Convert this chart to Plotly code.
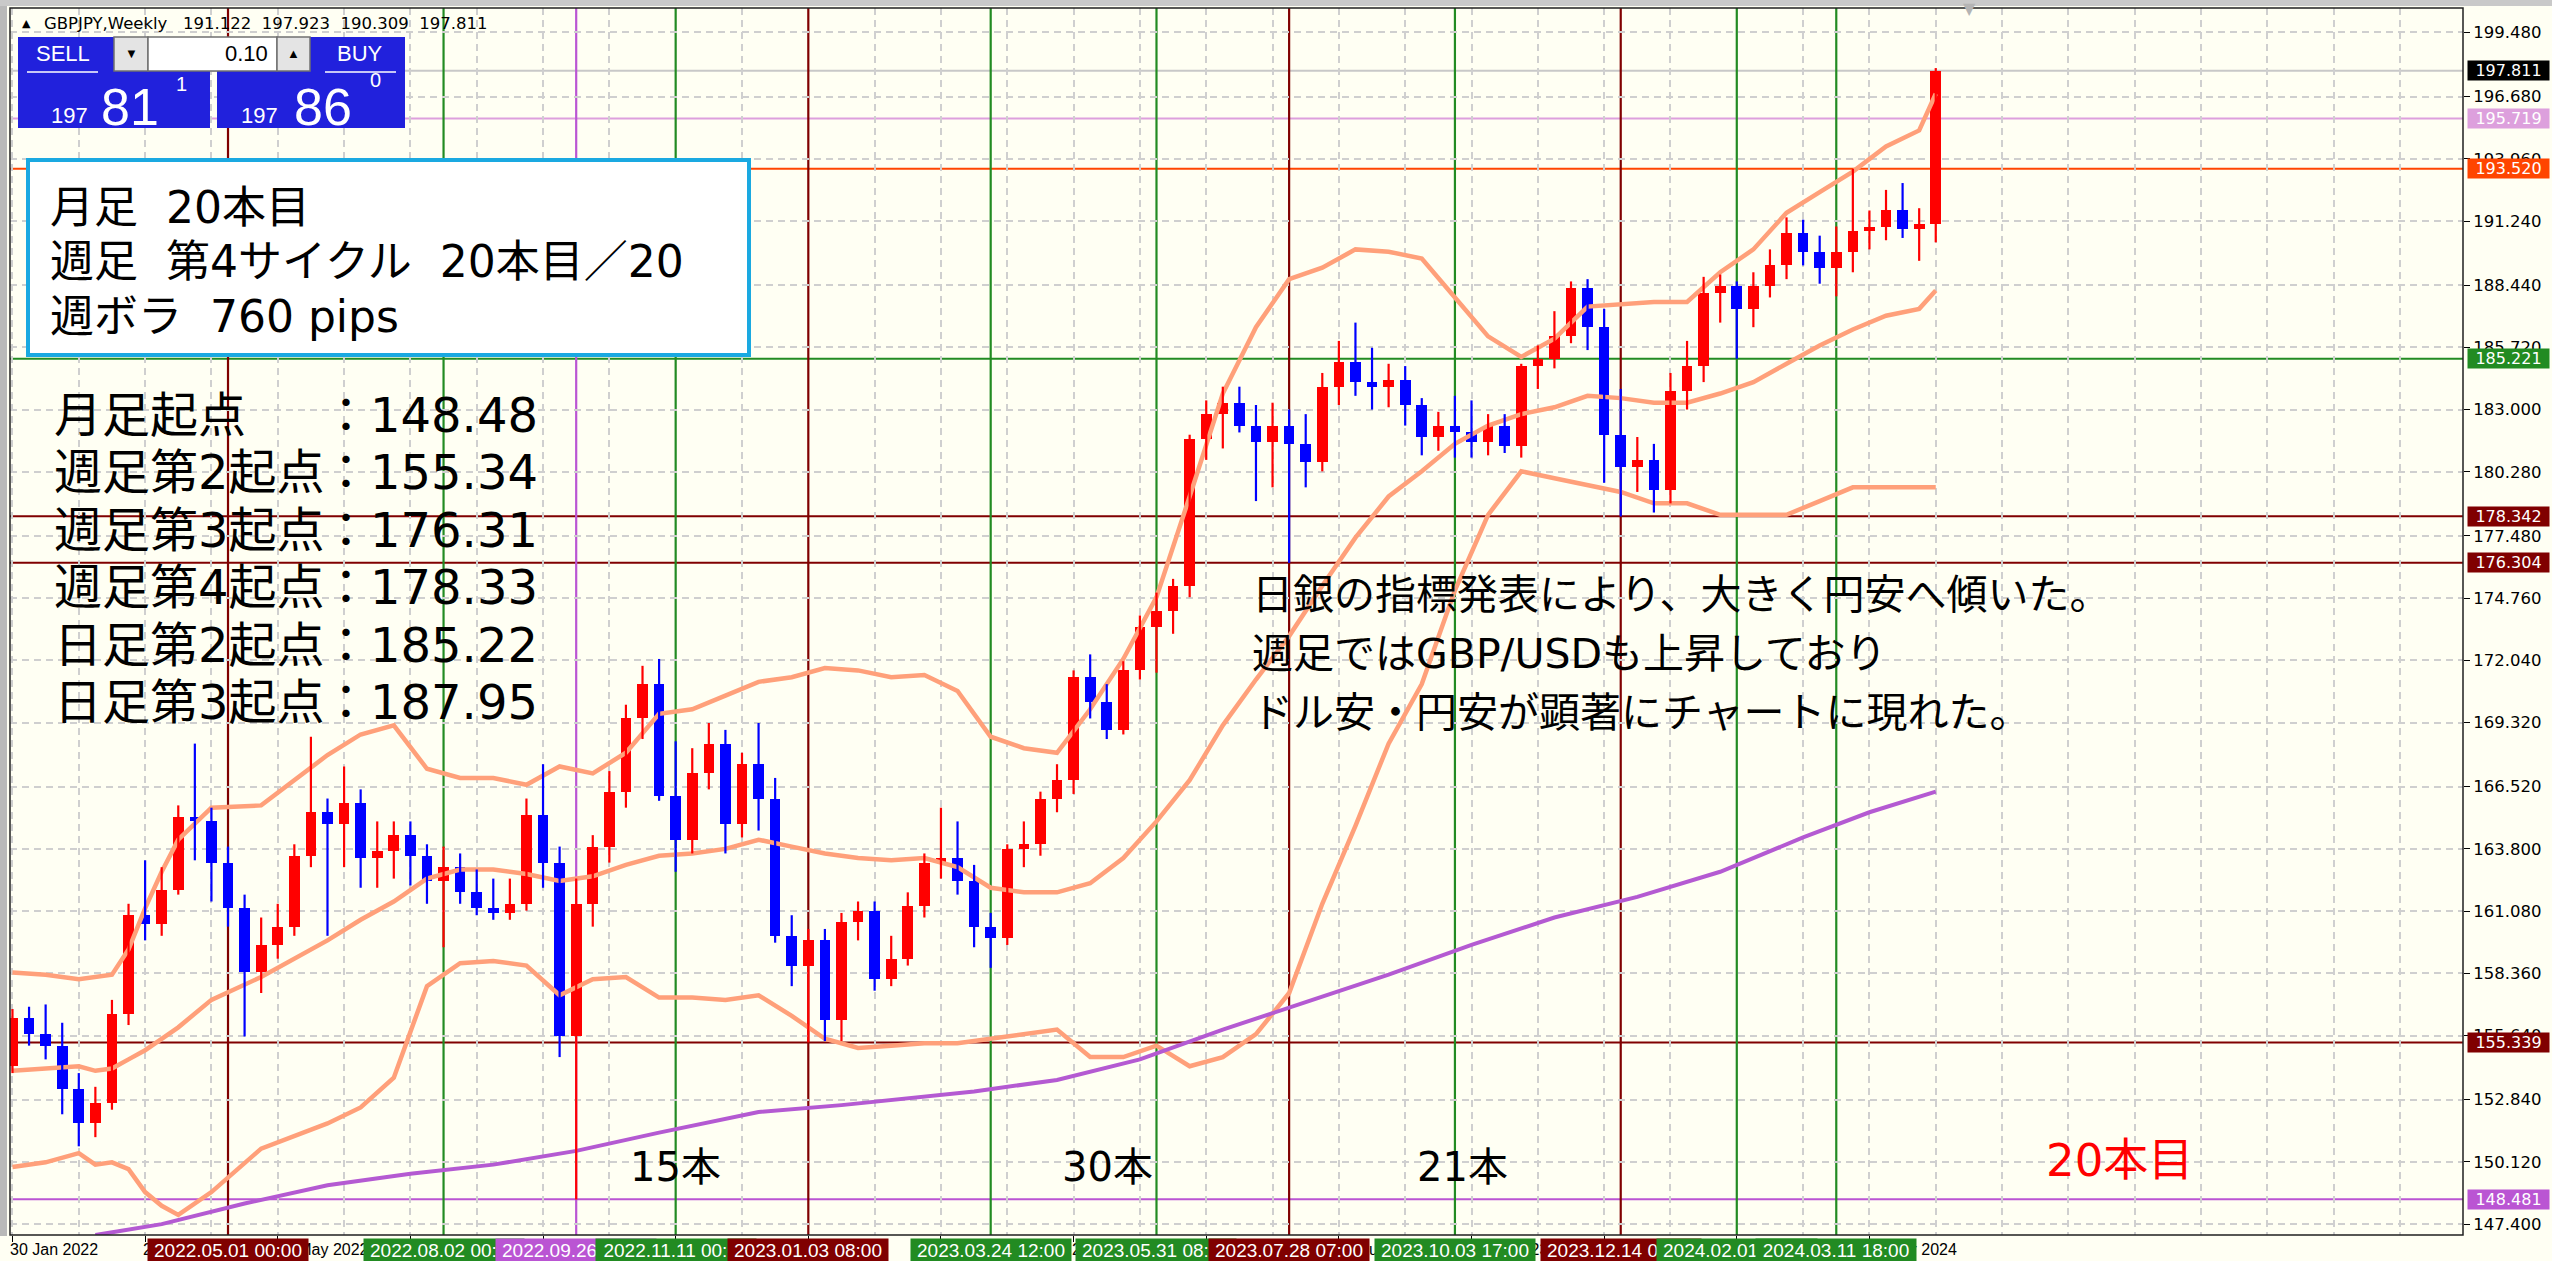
import plotly.graph_objects as go
import pandas as pd

# ---------------- data ----------------
first_bar = "2022-01-30"   # weekly bars (MT4 weeks start on Sunday)

opens = [154.3, 156.4, 155.7, 155.2, 153.3, 151.8, 152.7, 156.6, 160.9, 160.5,
         162.0, 165.2, 165.0, 163.2, 161.2, 158.4, 159.6, 160.4, 163.5, 165.4,
         164.9, 165.8, 163.4, 163.7, 164.4, 163.5, 162.4, 163.0, 161.9, 161.2,
         161.0, 161.4, 165.3, 163.2, 155.6, 161.4, 163.9, 166.3, 169.5, 171.0,
         166.1, 164.2, 167.1, 168.4, 164.9, 167.5, 166.0, 160.0, 158.7, 159.8,
         156.3, 160.6, 161.1, 158.1, 159.0, 161.3, 163.2, 163.4, 162.4, 160.4,
         159.9, 163.8, 164.0, 166.0, 166.8, 171.3, 170.2, 169.0, 171.6, 173.5,
         174.2, 175.3, 181.7, 182.8, 183.3, 182.3, 181.6, 182.3, 181.5, 180.7,
         184.0, 185.1, 184.2, 184.0, 184.3, 183.2, 181.8, 182.3, 182.0, 181.6,
         182.3, 181.4, 184.9, 185.2, 186.2, 188.3, 186.6, 181.9, 180.5, 180.8,
         179.5, 183.8, 184.9, 188.1, 188.4, 187.4, 188.4, 189.3, 190.7, 189.9,
         189.2, 189.9, 190.8, 191.0, 191.7, 190.9, 191.122]
highs = [156.8, 156.9, 157.0, 156.2, 154.0, 153.4, 157.2, 161.4, 163.3, 163.0,
         165.7, 168.4, 165.6, 163.9, 161.8, 160.8, 161.4, 164.0, 168.7, 166.0,
         167.4, 166.4, 165.0, 165.0, 165.0, 164.0, 163.9, 163.6, 162.9, 162.5,
         162.5, 166.0, 167.5, 163.9, 162.5, 164.4, 167.2, 170.1, 171.8, 172.1,
         168.5, 168.2, 169.3, 169.0, 168.0, 169.3, 166.9, 160.9, 160.3, 160.3,
         161.0, 161.5, 161.5, 160.0, 161.9, 163.6, 165.6, 165.0, 163.1, 161.0,
         164.0, 165.0, 166.3, 167.5, 171.6, 172.3, 171.0, 172.0, 174.0, 175.0,
         175.6, 181.9, 183.4, 184.0, 184.0, 183.2, 183.3, 183.0, 182.8, 184.6,
         186.0, 186.8, 185.7, 185.0, 184.9, 183.5, 182.9, 183.6, 183.4, 182.8,
         182.8, 185.0, 185.8, 187.3, 188.6, 188.7, 187.4, 183.9, 181.8, 181.5,
         184.6, 186.0, 188.8, 188.9, 188.6, 189.0, 190.0, 191.4, 191.3, 190.6,
         191.0, 193.52, 191.7, 192.6, 192.9, 191.8, 197.923]
lows = [154.0, 155.2, 154.6, 152.2, 150.8, 151.2, 152.4, 156.1, 159.8, 160.0,
        161.8, 163.3, 161.5, 160.4, 155.6, 157.5, 159.0, 160.0, 163.0, 160.0,
        163.0, 162.1, 162.1, 162.5, 162.2, 161.4, 159.5, 161.4, 160.9, 160.7,
        160.7, 161.1, 162.1, 154.7, 148.48, 160.4, 163.2, 165.6, 168.6, 165.9,
        162.8, 163.6, 166.4, 163.6, 164.3, 164.6, 159.7, 157.8, 155.34, 155.4,
        155.4, 159.8, 157.6, 157.8, 158.7, 160.8, 162.5, 161.8, 159.5, 158.6,
        159.6, 163.0, 163.5, 165.4, 166.2, 169.5, 168.6, 168.8, 171.2, 171.5,
        173.2, 174.8, 180.8, 181.3, 182.0, 179.0, 179.6, 176.30, 179.6, 180.3,
        183.2, 183.6, 183.0, 183.1, 182.3, 181.0, 181.2, 180.9, 180.9, 181.0,
        181.1, 180.9, 183.9, 184.8, 185.9, 185.6, 179.8, 178.33, 179.4, 178.5,
        178.9, 183.0, 184.2, 186.8, 185.22, 186.6, 187.9, 188.7, 189.3, 188.5,
        187.95, 189.0, 190.0, 190.4, 190.5, 189.5, 190.309]
closes = [156.4, 155.7, 155.2, 153.3, 151.8, 152.7, 156.6, 160.9, 160.5, 162.0,
          165.2, 165.0, 163.2, 161.2, 158.4, 159.6, 160.4, 163.5, 165.4, 164.9,
          165.8, 163.4, 163.7, 164.4, 163.5, 162.4, 163.0, 161.9, 161.2, 161.0,
          161.4, 165.3, 163.2, 155.6, 161.4, 163.9, 166.3, 169.5, 171.0, 166.1,
          164.2, 167.1, 168.4, 164.9, 167.5, 166.0, 160.0, 158.7, 159.8, 156.3,
          160.6, 161.1, 158.1, 159.0, 161.3, 163.2, 163.4, 162.4, 160.4, 159.9,
          163.8, 164.0, 166.0, 166.8, 171.3, 170.2, 169.0, 171.6, 173.5, 174.2,
          175.3, 181.7, 182.8, 183.3, 182.3, 181.6, 182.3, 181.5, 180.7, 184.0,
          185.1, 184.2, 184.0, 184.3, 183.2, 181.8, 182.3, 182.0, 181.6, 182.3,
          181.4, 184.9, 185.2, 186.2, 188.3, 186.6, 181.9, 180.5, 180.8, 179.5,
          183.8, 184.9, 188.1, 188.4, 187.4, 188.4, 189.3, 190.7, 189.9, 189.2,
          189.9, 190.8, 191.0, 191.7, 190.9, 191.122, 197.811]

# Bollinger bands (upper / middle / lower) and long moving average
band_bars = [0, 2, 4, 5, 6, 7, 8, 9, 10, 12, 15, 19, 21, 23, 25, 27, 29, 31, 33, 35,
             37, 39, 41, 43, 45, 47, 49, 51, 53, 55, 57, 59, 61, 63, 65, 67, 69, 71, 73,
             75, 77, 79, 81, 83, 85, 87, 89, 91, 93, 95, 97, 99, 101, 103, 105, 107, 109,
             111, 113, 115, 116]
upper_vals = [158.4, 158.3, 158.1, 158.2, 158.3, 159.4, 161.2, 162.8, 164.2, 165.6,
              165.7, 167.9, 168.8, 169.2, 167.3, 166.9, 166.9, 166.6, 167.4, 167.1,
              168.0, 169.7, 169.9, 170.5, 171.1, 171.3, 171.7, 171.6, 171.3, 171.4,
              170.7, 168.7, 168.2, 168.0, 169.9, 172.1, 174.8, 179.2, 183.7, 186.6,
              188.7, 189.2, 190.0, 189.9, 189.6, 187.9, 186.2, 185.3, 186.1, 187.5,
              187.6, 187.7, 187.7, 189.0, 190.0, 191.6, 192.5, 193.4, 194.5, 195.2,
              196.8]
mid_vals = [154.1, 154.2, 154.3, 154.1, 154.2, 154.6, 155.0, 155.5, 156.0, 157.2,
            158.2, 159.8, 160.7, 161.5, 162.5, 162.9, 162.9, 162.7, 162.4, 162.6,
            163.1, 163.5, 163.6, 163.8, 164.2, 163.9, 163.6, 163.4, 163.3, 163.4,
            163.0, 162.1, 161.9, 161.9, 162.3, 163.4, 165.0, 166.8, 169.2, 171.2,
            173.1, 175.3, 177.4, 179.2, 180.3, 181.5, 182.3, 182.8, 183.1, 183.6,
            183.5, 183.3, 183.3, 183.7, 184.2, 185.0, 185.8, 186.5, 187.1, 187.4,
            188.2]
lower_vals = [149.9, 150.1, 150.5, 150.0, 150.1, 149.8, 148.8, 148.2, 147.8, 148.8,
              150.7, 151.8, 152.5, 153.8, 157.8, 158.8, 158.9, 158.7, 157.4, 158.1,
              158.2, 157.3, 157.3, 157.2, 157.4, 156.5, 155.5, 155.1, 155.2, 155.3,
              155.3, 155.5, 155.7, 155.9, 154.7, 154.7, 155.2, 154.3, 154.7, 155.7,
              157.5, 161.4, 164.8, 168.4, 171.0, 175.1, 178.4, 180.3, 180.0, 179.7,
              179.4, 178.9, 178.9, 178.4, 178.4, 178.4, 179.0, 179.6, 179.6, 179.6,
              179.6]
ma_bars = [5, 9, 14, 19, 24, 29, 34, 39, 45, 50, 58, 63, 68, 73, 78, 83, 88, 93, 98, 103,
           108, 112, 116]
ma_vals = [146.92, 147.4, 148.3, 149.1, 149.6, 150.0, 150.6, 151.4, 152.3, 152.6, 153.2,
           153.7, 154.6, 155.9, 157.1, 158.3, 159.6, 160.8, 161.7, 162.8, 164.3, 165.4,
           166.3]

y_tick_vals = [199.48, 196.68, 193.96, 191.24, 188.44, 185.72, 183.00, 180.28, 177.48,
               174.76, 172.04, 169.32, 166.52, 163.80, 161.08, 158.36, 155.64, 152.84,
               150.12, 147.40]
# time-scale labels that are not completely hidden behind the line labels
time_label_bars = [0, 8, 16, 48, 64, 80, 88, 112]

hline_prices = [197.811, 195.719, 193.520, 185.221, 178.342, 176.304, 155.339, 148.481]
hline_colors = ["#C8C8C8", "#DDA0DD", "#FF4500", "#228B22", "#800000", "#800000",
                "#800000", "#BA55D3"]
hline_boxes = ["#000000", "#DDA0DD", "#FF4500", "#228B22", "#800000", "#800000",
               "#800000", "#BA55D3"]

vline_labels = ["2022.05.01 00:00", "2022.08.02 00:00", "2022.09.26 00:00",
                "2022.11.11 00:00", "2023.01.03 08:00", "2023.03.24 12:00",
                "2023.05.31 08:00", "2023.07.28 07:00", "2023.10.03 17:00",
                "2023.12.14 00:00", "2024.02.01 00:00", "2024.03.11 18:00"]
vline_colors = ["#800000", "#228B22", "#BA55D3", "#228B22", "#800000", "#228B22",
                "#228B22", "#800000", "#228B22", "#800000", "#228B22", "#228B22"]

header_symbol = "GBPJPY,Weekly"
header_ohlc = ["191.122", "197.923", "190.309", "197.811"]
summary_lines = ["月足\u00a0\u00a020本目", "週足\u00a0\u00a0第4サイクル\u00a0\u00a020本目／20",
                 "週ボラ\u00a0\u00a0760 pips"]
origin_names = ["月足起点", "週足第2起点", "週足第3起点", "週足第4起点", "日足第2起点",
                "日足第3起点"]
origin_values = ["148.48", "155.34", "176.31", "178.33", "185.22", "187.95"]
comment_lines = ["日銀の指標発表により、大きく円安へ傾いた。",
                 "週足ではGBP/USDも上昇しており",
                 "ドル安・円安が顕著にチャートに現れた。"]
count_labels = ["15本", "30本", "21本"]
current_label = "20本目"

# ---------------- layout helpers ----------------
W, H = 2552, 1261
ML, MR, MT, MB = 10, 89, 8, 26
PW, PH = W - ML - MR, H - MT - MB
BG = "#FFFFF3"
DAY = 86400000


def PX(x):
    return (x - ML) / PW


def PY(y):
    return (H - MB - y) / PH


n = len(opens)
bar_dates = pd.date_range(first_bar, periods=n, freq="7D")
week = pd.Timedelta(days=7)


def week_start(ts):
    ts = pd.Timestamp(ts).normalize()
    return ts - pd.Timedelta(days=(ts.dayofweek + 1) % 7)


x_start = bar_dates[0] - pd.Timedelta(hours=25)
x_end = bar_dates[0] + pd.Timedelta(days=1034.6)

fig = go.Figure()

band_x = [bar_dates[0] + week * b for b in band_bars]
for xs, vals, col, wdt in [(band_x, upper_vals, "#FFA07A", 4.5),
                           (band_x, mid_vals, "#FFA07A", 4.5),
                           (band_x, lower_vals, "#FFA07A", 4.5),
                           ([bar_dates[0] + week * b for b in ma_bars], ma_vals,
                            "#B45AD2", 4)]:
    fig.add_trace(go.Scatter(x=xs, y=vals, mode="lines", line=dict(color=col, width=wdt),
                             hoverinfo="skip", showlegend=False))

# candles: bodies as bars, wicks as line segments
for is_up, col in [(True, "#FF0000"), (False, "#0000FF")]:
    idx = [i for i in range(n) if (closes[i] >= opens[i]) == is_up]
    fig.add_trace(go.Bar(
        x=[bar_dates[i] for i in idx],
        y=[max(abs(closes[i] - opens[i]), 0.05) for i in idx],
        base=[min(opens[i], closes[i]) for i in idx],
        width=4.5 * DAY, marker=dict(color=col, line=dict(width=0)),
        hoverinfo="skip", showlegend=False))
    wx, wy = [], []
    for i in idx:
        wx += [bar_dates[i], bar_dates[i], None]
        wy += [lows[i], highs[i], None]
    fig.add_trace(go.Scatter(x=wx, y=wy, mode="lines", line=dict(color=col, width=2.2),
                             hoverinfo="skip", showlegend=False))

shapes = []
for p, c in zip(hline_prices, hline_colors):
    shapes.append(dict(type="line", xref="paper", yref="y", x0=0, x1=1, y0=p, y1=p,
                       line=dict(color=c, width=2), layer="between"))
vline_dates = [week_start(s.replace(".", "-")) for s in vline_labels]
for d, c in zip(vline_dates, vline_colors):
    shapes.append(dict(type="line", xref="x", yref="paper", x0=d, x1=d, y0=0, y1=1,
                       line=dict(color=c, width=2.2), layer="between"))

# window frame strips (left and top)
shapes.append(dict(type="rect", xref="paper", yref="paper", x0=PX(0), x1=PX(7),
                   y0=PY(1236), y1=PY(0), fillcolor="#B9B9B9", line=dict(width=0),
                   layer="above"))
shapes.append(dict(type="rect", xref="paper", yref="paper", x0=PX(0), x1=PX(W),
                   y0=PY(6), y1=PY(0), fillcolor="#C9C9C9", line=dict(width=0),
                   layer="above"))

# text box with cyan frame
shapes.append(dict(type="rect", xref="paper", yref="paper", x0=PX(28), x1=PX(749),
                   y0=PY(355), y1=PY(160), fillcolor="#FFFFFF",
                   line=dict(color="#1AA9E1", width=4), layer="above"))

# one-click trading panel
BLUE = "#2121DC"
for x0, x1 in [(18, 210), (217, 405)]:
    shapes.append(dict(type="rect", xref="paper", yref="paper", x0=PX(x0), x1=PX(x1),
                       y0=PY(128), y1=PY(37), fillcolor=BLUE, line=dict(width=0),
                       layer="above"))
for x0, x1, fc in [(114, 148, "#E4E4E4"), (148, 277, "#FFFFFF"), (277, 310, "#E4E4E4")]:
    shapes.append(dict(type="rect", xref="paper", yref="paper", x0=PX(x0), x1=PX(x1),
                       y0=PY(71), y1=PY(37), fillcolor=fc,
                       line=dict(color="#707070", width=1.5), layer="above"))
for x0, x1 in [(27, 98), (325, 396)]:
    shapes.append(dict(type="line", xref="paper", yref="paper", x0=PX(x0), x1=PX(x1),
                       y0=PY(72), y1=PY(72), line=dict(color="#FFFFFF", width=1.5),
                       layer="above"))

# plot frame
shapes.append(dict(type="rect", xref="paper", yref="paper", x0=0, x1=1, y0=0, y1=1,
                   line=dict(color="#202020", width=1.5), layer="above"))

ann = []
AXF = "DejaVu Sans, sans-serif"
LBF = "Liberation Sans, Arial, sans-serif"
CJK = "DejaVu Sans, Noto Sans CJK JP, sans-serif"

# time-axis labels
for i in time_label_bars:
    ann.append(dict(x=bar_dates[i], xref="x", y=PY(1249), yref="paper",
                    text=bar_dates[i].strftime("%-d %b %Y"), showarrow=False,
                    xanchor="left", yanchor="middle", xshift=-4,
                    font=dict(family=LBF, size=16, color="#000000")))
# labels of the vertical lines
for d, s, c in zip(vline_dates, vline_labels, vline_colors):
    ann.append(dict(x=d, xref="x", y=PY(1250), yref="paper", text=s, showarrow=False,
                    xanchor="center", yanchor="middle", bgcolor=c, width=160, height=22,
                    borderpad=0, font=dict(family=LBF, size=19, color="#FFFFFF")))
# price labels of the horizontal lines
for p, c in zip(hline_prices, hline_boxes):
    ann.append(dict(x=PX(2467), xref="paper", y=p, yref="y", text=f"{p:.3f}",
                    showarrow=False, xanchor="left", yanchor="middle", bgcolor=c,
                    width=81, height=19, borderpad=0,
                    font=dict(family=AXF, size=16, color="#FFFFFF")))

# chart-shift marker at the top
ann.append(dict(x=PX(1969), y=PY(9), xref="paper", yref="paper", text="▼",
                showarrow=False, xanchor="center", yanchor="middle",
                font=dict(family="DejaVu Sans", size=16, color="#B4B4B4")))

# header
ann.append(dict(x=PX(20), y=PY(24), xref="paper", yref="paper", text="▲", showarrow=False,
                xanchor="left", yanchor="middle",
                font=dict(family="DejaVu Sans", size=11, color="#000000")))
ann.append(dict(x=PX(42), y=PY(24), xref="paper", yref="paper",
                text=header_symbol + "\u00a0\u00a0\u00a0" + "\u00a0\u00a0".join(header_ohlc),
                showarrow=False, xanchor="left", yanchor="middle",
                font=dict(family="DejaVu Sans", size=16.5, color="#000000")))

# one-click panel texts
for txt, x, y, sz, col, anc in [("SELL", 63, 53, 22, "#FFFFFF", "center"),
                                ("BUY", 360, 53, 22, "#FFFFFF", "center"),
                                ("▼", 131, 54, 13, "#000000", "center"),
                                ("▲", 293, 54, 13, "#000000", "center"),
                                ("0.10", 270, 54, 22, "#000000", "right"),
                                ("197", 49, 116, 22, "#FFFFFF", "left"),
                                ("81", 99, 107, 52, "#FFFFFF", "left"),
                                ("1", 174, 84, 20, "#FFFFFF", "left"),
                                ("197", 239, 116, 22, "#FFFFFF", "left"),
                                ("86", 292, 107, 52, "#FFFFFF", "left"),
                                ("0", 368, 80, 20, "#FFFFFF", "left")]:
    ann.append(dict(x=PX(x), y=PY(y), xref="paper", yref="paper", text=txt,
                    showarrow=False, xanchor=anc, yanchor="middle",
                    font=dict(family=LBF, size=sz, color=col)))

# summary box texts
for k, s in enumerate(summary_lines):
    ann.append(dict(x=PX(48), y=PY(208 + 54 * k), xref="paper", yref="paper", text=s,
                    showarrow=False, xanchor="left", yanchor="middle",
                    font=dict(family=CJK, size=44, color="#000000")))
# origin list
for k, (nm, v) in enumerate(zip(origin_names, origin_values)):
    yk = PY(415 + 57.4 * k)
    ann.append(dict(x=PX(52), y=yk, xref="paper", yref="paper", text=nm, showarrow=False,
                    xanchor="left", yanchor="middle",
                    font=dict(family=CJK, size=48, color="#000000")))
    ann.append(dict(x=PX(320), y=yk, xref="paper", yref="paper", text="：" + v,
                    showarrow=False, xanchor="left", yanchor="middle",
                    font=dict(family=CJK, size=48, color="#000000")))
# comment
for k, s in enumerate(comment_lines):
    ann.append(dict(x=PX(1250), y=PY(595 + 59 * k), xref="paper", yref="paper", text=s,
                    showarrow=False, xanchor="left", yanchor="middle",
                    font=dict(family=CJK, size=41, color="#000000")))
# bar counts
for s, x in zip(count_labels, [675, 1107, 1462]):
    ann.append(dict(x=PX(x), y=PY(1167), xref="paper", yref="paper", text=s,
                    showarrow=False, xanchor="center", yanchor="middle",
                    font=dict(family=CJK, size=40, color="#000000")))
ann.append(dict(x=PX(2119), y=PY(1160), xref="paper", yref="paper", text=current_label,
                showarrow=False, xanchor="center", yanchor="middle",
                font=dict(family=CJK, size=45, color="#FF0000")))

# grid every 4 bars (skipping positions covered by the vertical line objects),
# tick marks every 8 bars
tick_x = [bar_dates[i] + pd.Timedelta(minutes=1) for i in range(0, n, 8)]
grid_x = [bar_dates[0] + week * k for k in range(0, 150, 4)
          if bar_dates[0] + week * k not in vline_dates]

fig.update_layout(
    width=W, height=H, autosize=False,
    margin=dict(l=ML, r=MR, t=MT, b=MB, pad=0),
    paper_bgcolor=BG, plot_bgcolor=BG,
    barmode="overlay", bargap=0, showlegend=False,
    shapes=shapes, annotations=ann,
    xaxis=dict(type="date", range=[x_start, x_end], showticklabels=False,
               tickmode="array", tickvals=tick_x, ticks="outside", ticklen=6,
               tickcolor="#000000", showgrid=False, zeroline=False, showline=False,
               minor=dict(tickmode="array", tickvals=grid_x, showgrid=True,
                          gridcolor="#CFCFCF", griddash="7px,5px", gridwidth=1.5,
                          ticks=""),
               fixedrange=True),
    yaxis=dict(side="right", range=[146.924, 200.55], tickmode="array",
               tickvals=y_tick_vals, ticktext=[f"{v:.3f}" for v in y_tick_vals],
               ticks="outside", ticklen=6, tickcolor="#000000",
               tickfont=dict(family=AXF, size=16.5, color="#000000"),
               showgrid=True, gridcolor="#CFCFCF", griddash="7px,5px", gridwidth=1.5,
               zeroline=False, showline=False, fixedrange=True),
)

fig.write_html("out.html", config={"displayModeBar": False},
               post_script="document.body.style.margin='0px';"
                           "document.body.style.overflow='hidden';")
